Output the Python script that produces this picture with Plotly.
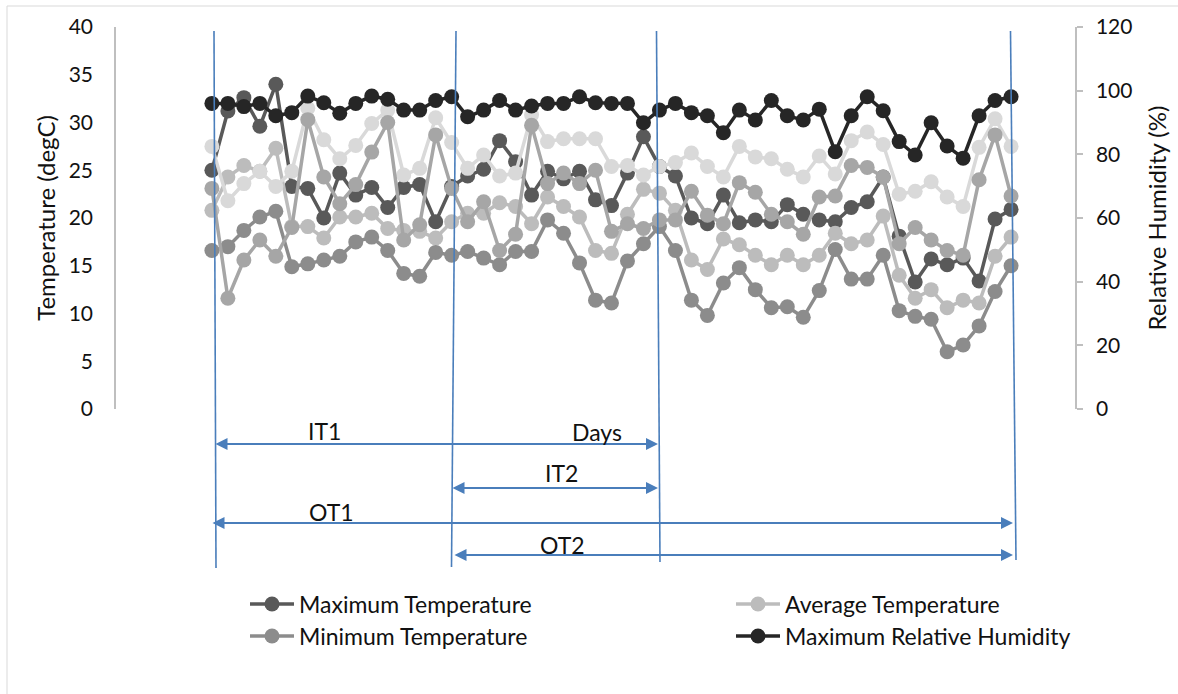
import plotly.graph_objects as go

# ---- data -------------------------------------------------------------
days = list(range(1, 52))

max_temp = [25.0, 31.2, 32.6, 29.6, 34.0, 23.3, 23.1, 20.0, 24.7, 22.4,
            23.2, 21.1, 23.2, 23.5, 19.6, 23.3, 24.4, 25.1, 28.1, 25.9,
            22.4, 24.9, 24.1, 24.9, 21.9, 21.3, 24.7, 28.5, 25.4, 24.4,
            20.0, 19.4, 22.4, 19.5, 19.8, 19.6, 21.4, 20.4, 19.8, 19.6,
            21.1, 21.7, 24.3, 18.1, 13.3, 15.7, 15.1, 15.8, 13.4, 19.9, 20.9]

avg_temp = [20.8, 24.3, 25.5, 24.9, 27.3, 19.1, 19.1, 17.9, 20.1, 20.1,
            20.5, 18.9, 18.7, 18.6, 17.9, 19.6, 20.5, 20.5, 21.6, 21.2,
            19.4, 22.2, 21.2, 20.1, 16.6, 16.3, 20.4, 23.0, 22.6, 20.8,
            15.6, 14.6, 17.8, 17.2, 16.1, 15.1, 16.1, 15.1, 16.1, 18.4,
            17.3, 17.7, 20.2, 14.0, 11.6, 12.5, 10.6, 11.4, 11.1, 16.0, 18.0]

min_temp = [16.6, 17.0, 18.7, 20.1, 20.7, 14.9, 15.2, 15.6, 16.0, 17.5,
            18.0, 16.6, 14.2, 13.9, 16.4, 16.1, 16.5, 15.8, 15.1, 16.5,
            16.5, 19.8, 18.4, 15.3, 11.4, 11.1, 15.5, 17.3, 19.1, 16.6,
            11.4, 9.8, 13.2, 14.8, 12.5, 10.6, 10.7, 9.6, 12.4, 16.7,
            13.6, 13.6, 16.1, 10.3, 9.7, 9.4, 6.0, 6.7, 8.7, 12.3, 15.0]

max_rh = [96.0, 96.0, 95.0, 96.0, 92.1, 93.1, 98.3, 96.2, 92.9, 96.0,
          98.3, 97.3, 93.9, 93.9, 96.9, 98.1, 91.8, 93.9, 96.9, 93.9,
          95.2, 96.0, 96.0, 98.1, 96.2, 96.0, 96.0, 89.9, 93.9, 96.0,
          93.1, 92.1, 86.8, 93.9, 90.8, 96.9, 92.1, 90.8, 94.2, 80.8,
          92.1, 98.1, 93.7, 84.0, 79.8, 89.9, 82.6, 78.8, 92.1, 96.9, 98.1]

avg_rh = [82.5, 65.4, 70.8, 74.7, 69.9, 74.7, 94.5, 84.6, 78.6, 82.8,
          89.7, 93.9, 73.5, 75.6, 91.5, 83.7, 75.6, 79.8, 73.2, 74.1,
          92.4, 84.0, 84.9, 84.9, 84.9, 76.2, 76.5, 73.5, 76.2, 77.4,
          80.4, 76.2, 72.9, 82.5, 79.2, 78.6, 75.3, 72.9, 79.5, 73.8,
          84.3, 87.0, 83.1, 67.5, 68.4, 71.4, 66.6, 63.6, 82.2, 91.2, 82.5]

min_rh = [69.3, 34.8, 46.8, 53.1, 48.0, 57.0, 90.9, 72.9, 64.5, 70.5,
          80.7, 90.0, 53.1, 57.9, 86.1, 69.3, 58.8, 65.1, 49.8, 54.9,
          89.1, 70.8, 74.1, 70.8, 75.0, 55.8, 58.2, 56.7, 59.4, 59.4,
          68.4, 60.9, 58.2, 71.1, 68.1, 61.2, 58.8, 54.9, 66.6, 66.9,
          76.5, 75.9, 72.9, 51.9, 57.0, 53.1, 49.8, 48.3, 72.0, 86.1, 66.9]

temp_ticks = [0, 5, 10, 15, 20, 25, 30, 35, 40]
rh_ticks = [0, 20, 40, 60, 80, 100, 120]

# ---- page geometry ----------------------------------------------------
W, H = 1178, 694
ML, MR, MT, MB = 116, 103, 27, 285
PW, PH = W - ML - MR, H - MT - MB


def fx(px):
    """pixel column -> paper x"""
    return (px - ML) / PW


def fy(py):
    """pixel row -> paper y"""
    return (H - MB - py) / PH


FONT = "Lato"
TXT = "#111111"
BLUE = "#4a7ebb"
AXIS_GREY = "#bfbfbf"


def series(name, values, color, yaxis, legend, show=True):
    return go.Scatter(
        x=days, y=values, name=name, mode="lines+markers", yaxis=yaxis,
        line=dict(color=color, width=3.5),
        marker=dict(color=color, size=15),
        legend=legend, showlegend=show, hoverinfo="x+y+name",
    )


fig = go.Figure()
fig.add_trace(series("Maximum Temperature", max_temp, "#595959", "y", "legend"))
fig.add_trace(series("Average Temperature", avg_temp, "#bcbcbc", "y", "legend2"))
fig.add_trace(series("Minimum Temperature", min_temp, "#8c8c8c", "y", "legend3"))
fig.add_trace(series("Average Relative Humidity", avg_rh, "#d9d9d9", "y2", "legend", False))
fig.add_trace(series("Minimum Relative Humidity", min_rh, "#a6a6a6", "y2", "legend", False))
fig.add_trace(series("Maximum Relative Humidity", max_rh, "#262626", "y2", "legend4"))

# ---- period markers: vertical guides --------------------------------
guides = [((214, 31), (216, 568)), ((456, 31), (451.5, 567)),
          ((656.5, 31), (660, 562)), ((1010.5, 31), (1016, 560))]
shapes = []
for (x0, y0), (x1, y1) in guides:
    shapes.append(dict(type="line", xref="paper", yref="paper",
                       x0=fx(x0), y0=fy(y0), x1=fx(x1), y1=fy(y1),
                       line=dict(color=BLUE, width=1.6)))

# light frame around the chart area
shapes.append(dict(type="rect", xref="paper", yref="paper",
                   x0=fx(7), y0=fy(6), x1=fx(1190), y1=fy(705),
                   line=dict(color="#d9d9d9", width=1), layer="below"))

# ---- period markers: double-headed spans ------------------------------
annotations = []
spans = [(214, 658, 444), (451, 658, 488), (211, 1013, 523), (453, 1013, 555)]
for left, right, yy in spans:
    annotations.append(dict(
        xref="paper", yref="paper", x=fx(right), y=fy(yy),
        axref="pixel", ayref="pixel", ax=left - right, ay=0,
        text="", showarrow=True, arrowside="end+start",
        arrowhead=2, startarrowhead=2, arrowsize=1.2, startarrowsize=1.2,
        arrowwidth=2, arrowcolor=BLUE, standoff=0, startstandoff=0,
    ))

labels = [("IT1", 324, 431), ("Days", 597, 432), ("IT2", 561, 473),
          ("OT1", 331, 512), ("OT2", 562, 545)]
for txt, xx, yy in labels:
    annotations.append(dict(
        xref="paper", yref="paper", x=fx(xx), y=fy(yy), text=txt,
        showarrow=False, xanchor="center", yanchor="middle",
        font=dict(family=FONT, size=23, color=TXT),
    ))

legend_style = dict(orientation="v", xanchor="left", yanchor="middle",
                    bgcolor="rgba(0,0,0,0)", borderwidth=0, itemwidth=44,
                    font=dict(family=FONT, size=23, color=TXT))

fig.update_layout(
    template="none",
    width=W, height=H,
    margin=dict(l=ML, r=MR, t=MT, b=MB, pad=0),
    paper_bgcolor="white", plot_bgcolor="white",
    font=dict(family=FONT, color=TXT),
    showlegend=True,
    xaxis=dict(range=[-5, 55], visible=False, fixedrange=True),
    yaxis=dict(
        range=[0, 40], tickvals=temp_ticks, showgrid=False, zeroline=False,
        showline=True, linecolor=AXIS_GREY, linewidth=1.5, ticks="",
        ticklabelstandoff=17, tickfont=dict(family=FONT, size=21, color=TXT),
        title=dict(text="Temperature (degC)", standoff=6,
                   font=dict(family=FONT, size=24, color=TXT)),
    ),
    yaxis2=dict(
        range=[0, 120], tickvals=rh_ticks, overlaying="y", side="right",
        showgrid=False, zeroline=False, showline=True, linecolor=AXIS_GREY,
        linewidth=1.5, ticks="outside", ticklen=6, tickwidth=1.5,
        tickcolor=AXIS_GREY, ticklabelstandoff=9,
        tickfont=dict(family=FONT, size=21, color=TXT),
        title=dict(text="Relative Humidity (%)", standoff=18,
                   font=dict(family=FONT, size=24, color=TXT)),
    ),
    legend=dict(x=fx(245), y=fy(604), **legend_style),
    legend2=dict(x=fx(731), y=fy(604), **legend_style),
    legend3=dict(x=fx(245), y=fy(636), **legend_style),
    legend4=dict(x=fx(731), y=fy(636), **legend_style),
    shapes=shapes,
    annotations=annotations,
)

fig.write_html("out.html")
